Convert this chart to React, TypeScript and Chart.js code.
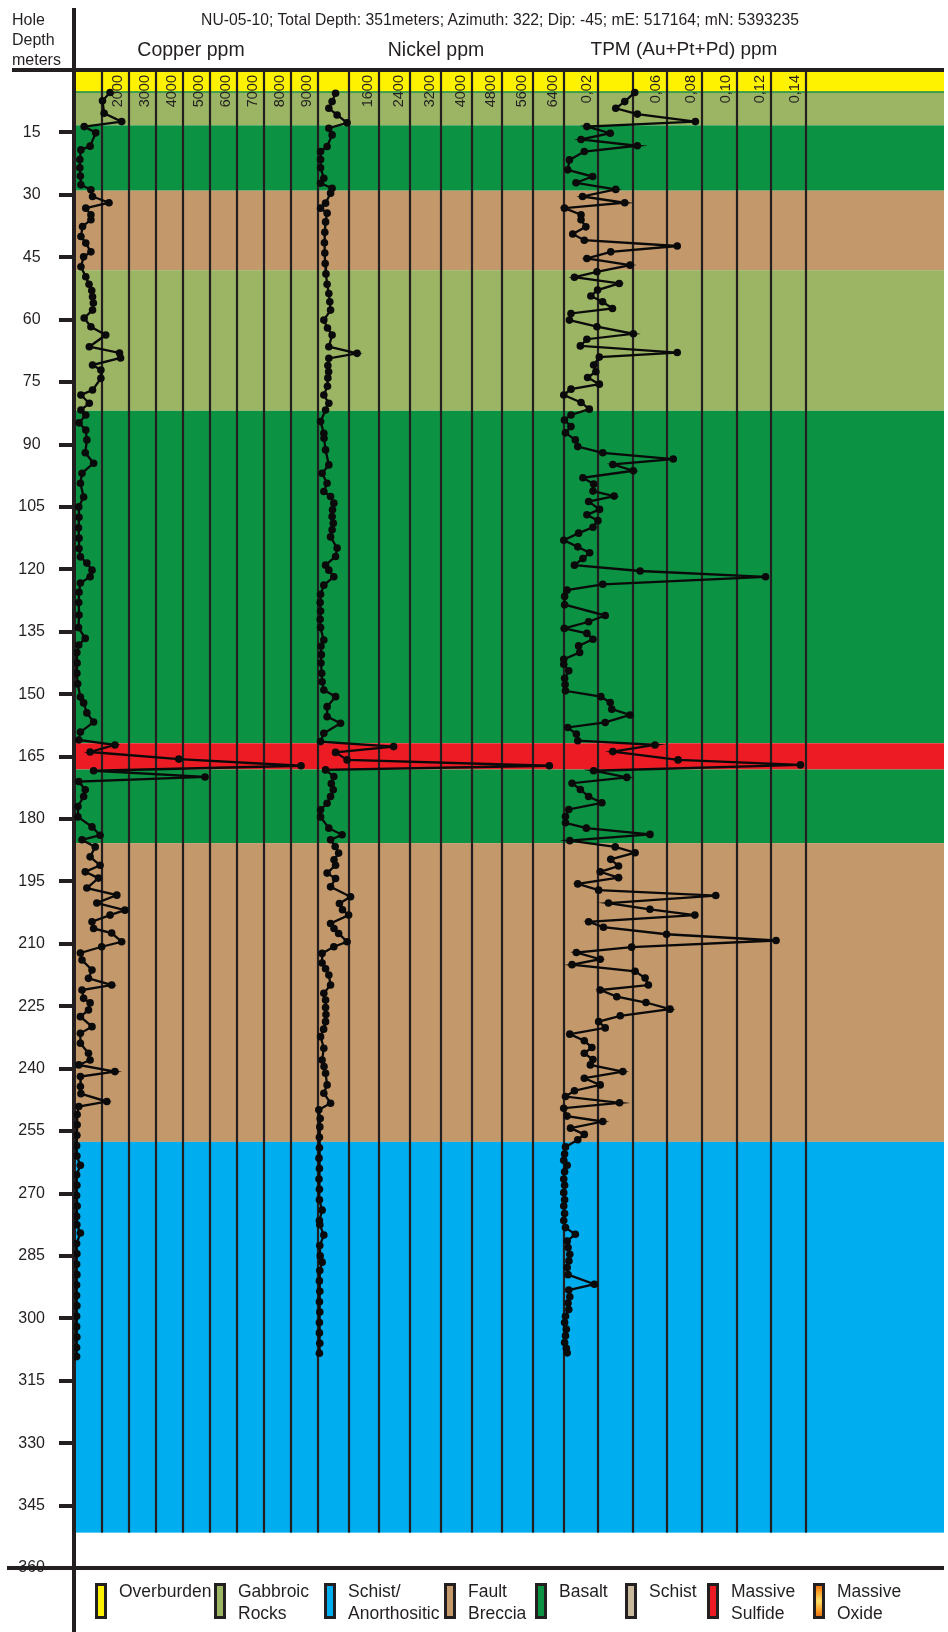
import React, { useEffect, useRef } from "react";
import { Chart, registerables } from "chart.js";

Chart.register(...registerables);

const FONT = "'Liberation Sans', Arial, Helvetica, sans-serif";
const INK = "#231F20";

// ---------- data ----------
const cuDepth = [5.4, 7.4, 10.4, 12.4, 13.6, 15.1, 18.3, 19.2, 21.5, 23.5, 25.5, 27.6, 28.8, 30.4, 31.9, 33.2, 34.8, 36.0, 37.6, 40.0, 41.6, 43.7, 44.9, 47.3, 49.7, 51.5, 53.0, 54.5, 56.0, 57.7, 59.6, 61.7, 63.7, 66.5, 68.0, 69.2, 70.9, 72.1, 74.1, 76.9, 78.1, 80.1, 81.7, 82.9, 84.8, 86.5, 88.9, 92.0, 94.5, 96.9, 99.3, 102.6, 105.0, 107.5, 110.0, 112.5, 115.0, 117.0, 118.5, 120.2, 121.8, 123.3, 125.5, 128.0, 131.0, 134.0, 136.6, 138.2, 140.0, 142.5, 145.0, 147.5, 150.7, 152.1, 154.5, 156.7, 159.1, 161.0, 162.2, 163.9, 165.6, 167.2, 168.4, 169.9, 171.0, 173.0, 174.6, 177.0, 179.5, 181.9, 183.9, 185.0, 186.7, 189.1, 191.1, 192.7, 194.2, 196.6, 198.3, 200.2, 201.9, 203.1, 204.7, 206.3, 207.4, 209.5, 210.7, 212.2, 213.9, 216.3, 218.3, 219.9, 221.1, 223.1, 224.2, 225.9, 227.5, 229.9, 231.5, 233.9, 236.3, 237.9, 239.1, 240.7, 241.9, 244.3, 246.0, 247.9, 249.1, 251.0, 253.5, 256.0, 258.5, 261.0, 263.2, 265.5, 268.0, 270.5, 273.0, 275.5, 277.5, 279.5, 282.0, 284.5, 287.0, 289.5, 292.0, 294.5, 297.0, 299.5, 302.0, 304.5, 307.0, 309.2];
const cuPpm = [1300, 1020, 1080, 1730, 340, 770, 560, 220, 180, 180, 200, 220, 590, 650, 1260, 400, 590, 590, 280, 220, 400, 590, 320, 220, 400, 520, 620, 650, 680, 650, 340, 590, 1140, 530, 1650, 1690, 650, 960, 960, 650, 220, 530, 220, 400, 150, 400, 440, 380, 690, 260, 200, 320, 140, 150, 130, 150, 150, 200, 440, 630, 560, 200, 150, 140, 150, 130, 380, 140, 70, 80, 70, 100, 200, 320, 440, 690, 200, 140, 1480, 560, 3850, 8380, 690, 4820, 140, 380, 320, 110, 110, 630, 930, 260, 750, 560, 930, 380, 870, 440, 1550, 810, 1850, 1300, 630, 690, 1360, 1730, 990, 200, 260, 630, 500, 1360, 260, 320, 560, 500, 200, 630, 200, 200, 500, 560, 140, 1480, 200, 200, 220, 1180, 140, 80, 80, 70, 60, 70, 200, 60, 70, 60, 80, 60, 70, 200, 60, 70, 60, 70, 60, 60, 70, 60, 60, 70, 60, 60];

const niDepth = [5.6, 7.6, 9.2, 10.8, 12.7, 14.0, 15.6, 18.4, 19.6, 21.5, 23.5, 26.0, 27.2, 28.4, 29.6, 32.0, 33.2, 34.4, 36.5, 39.0, 41.5, 44.0, 46.5, 49.0, 51.5, 53.7, 55.7, 57.7, 60.1, 62.0, 63.7, 66.5, 68.1, 69.3, 71.0, 72.5, 74.0, 76.0, 78.1, 80.1, 81.7, 84.5, 87.3, 88.5, 91.3, 94.9, 96.9, 99.3, 101.3, 102.5, 104.1, 105.7, 107.3, 108.9, 110.5, 112.2, 114.9, 116.9, 119.0, 120.2, 121.8, 123.8, 126.0, 128.0, 130.0, 132.0, 134.0, 137.0, 138.5, 140.5, 142.5, 145.0, 147.0, 149.0, 150.6, 153.0, 155.4, 157.0, 159.4, 161.4, 162.6, 164.0, 165.8, 167.2, 168.2, 169.8, 171.5, 173.0, 174.6, 176.2, 177.8, 179.5, 182.2, 183.8, 185.0, 186.6, 188.2, 189.8, 191.1, 193.0, 194.3, 196.3, 198.7, 200.3, 201.8, 203.1, 205.1, 206.3, 207.5, 209.5, 210.7, 212.3, 214.6, 216.0, 217.5, 219.9, 221.9, 223.5, 225.3, 227.0, 228.7, 230.5, 232.3, 235.1, 237.9, 239.5, 241.1, 243.9, 245.9, 248.3, 249.9, 252.0, 254.0, 256.5, 259.0, 261.5, 264.0, 266.5, 269.0, 271.5, 274.0, 276.5, 277.5, 280.0, 282.5, 285.0, 286.5, 288.5, 291.0, 293.5, 296.0, 298.5, 301.0, 303.5, 306.0, 308.4];
const niPpm = [460, 370, 285, 500, 760, 285, 370, 240, 70, 70, 70, 155, 70, 370, 330, 200, 70, 240, 200, 180, 170, 180, 190, 210, 240, 285, 310, 330, 155, 250, 370, 285, 1020, 285, 260, 280, 260, 250, 155, 285, 200, 70, 155, 160, 200, 285, 110, 240, 155, 330, 415, 380, 370, 400, 370, 330, 500, 460, 200, 285, 415, 155, 70, 60, 70, 60, 70, 155, 80, 90, 80, 100, 110, 155, 460, 240, 240, 590, 155, 70, 1970, 460, 760, 6020, 200, 415, 350, 400, 330, 240, 70, 70, 285, 630, 330, 450, 540, 420, 460, 240, 460, 330, 850, 560, 640, 800, 330, 420, 540, 760, 415, 110, 110, 200, 285, 330, 155, 200, 200, 210, 200, 150, 70, 155, 110, 160, 200, 240, 155, 330, 25, 60, 50, 40, 40, 30, 40, 30, 40, 40, 110, 40, 50, 155, 50, 60, 110, 50, 40, 50, 40, 50, 40, 40, 50, 40];

const tpmDepth = [5.4, 7.6, 9.2, 10.6, 12.4, 13.6, 15.2, 16.7, 18.2, 19.6, 21.6, 24.0, 25.6, 27.1, 28.7, 30.4, 31.9, 33.2, 34.8, 36.0, 37.7, 39.4, 40.9, 42.3, 43.7, 45.3, 46.9, 48.5, 49.8, 51.3, 52.9, 54.3, 55.7, 57.3, 58.5, 60.1, 61.7, 63.4, 64.7, 66.3, 67.9, 69.0, 70.9, 72.5, 73.9, 75.5, 76.7, 78.1, 79.9, 81.5, 82.9, 84.1, 85.7, 87.2, 88.9, 90.5, 92.0, 93.5, 94.8, 96.3, 98.0, 99.5, 101.2, 102.4, 103.7, 105.6, 106.9, 108.3, 109.9, 111.3, 113.0, 114.6, 116.0, 117.4, 119.0, 120.4, 121.8, 123.6, 125.0, 126.5, 128.5, 131.1, 132.6, 134.2, 135.4, 136.8, 138.4, 140.0, 141.6, 142.8, 144.4, 146.2, 147.7, 149.2, 150.6, 152.0, 153.6, 155.0, 156.8, 158.0, 159.6, 161.2, 162.2, 163.8, 165.8, 167.0, 168.4, 170.0, 171.4, 172.9, 174.6, 176.1, 177.7, 179.4, 180.9, 182.2, 183.7, 185.2, 186.7, 188.1, 189.7, 191.3, 192.7, 194.1, 195.6, 197.1, 198.4, 200.2, 201.7, 203.1, 204.7, 206.0, 207.7, 209.2, 210.8, 212.1, 213.7, 215.0, 216.6, 218.2, 219.9, 221.1, 222.7, 224.1, 225.7, 227.3, 228.7, 230.2, 231.7, 233.3, 234.9, 236.3, 237.8, 239.1, 240.7, 242.3, 243.9, 245.3, 246.7, 248.2, 249.5, 251.4, 252.7, 254.3, 255.8, 257.1, 258.8, 260.5, 262.0, 263.2, 264.8, 266.5, 268.0, 269.8, 271.5, 273.0, 274.8, 276.5, 278.2, 279.8, 281.4, 283.0, 284.6, 286.2, 287.8, 289.5, 291.8, 293.2, 294.8, 296.3, 297.9, 299.5, 301.0, 302.6, 304.2, 305.8, 307.2, 308.3];
const tpmPpm = [0.0411, 0.0353, 0.0301, 0.0426, 0.0762, 0.0134, 0.0269, 0.01, 0.0426, 0.0119, 0.0033, 0.0023, 0.0167, 0.0071, 0.0301, 0.0109, 0.0353, 0.0004, 0.01, 0.01, 0.0128, 0.0052, 0.0119, 0.0657, 0.0272, 0.0134, 0.0384, 0.0192, 0.0062, 0.0321, 0.0196, 0.0157, 0.0225, 0.0282, 0.0042, 0.0033, 0.0192, 0.0403, 0.0134, 0.0096, 0.0657, 0.0206, 0.0173, 0.0186, 0.0138, 0.0206, 0.0042, 0.0, 0.01, 0.0148, 0.0042, 0.0004, 0.0042, 0.001, 0.0067, 0.0081, 0.0226, 0.0634, 0.0284, 0.0403, 0.0111, 0.0173, 0.0169, 0.0292, 0.0144, 0.0207, 0.0134, 0.0198, 0.0169, 0.0086, 0.0, 0.0081, 0.015, 0.0111, 0.0062, 0.0442, 0.1168, 0.0226, 0.0019, 0.0005, 0.0005, 0.024, 0.0144, 0.0003, 0.0134, 0.0169, 0.0086, 0.0092, 0.0, 0.0, 0.0029, 0.0005, 0.0008, 0.001, 0.0215, 0.0269, 0.0278, 0.0384, 0.024, 0.0023, 0.0073, 0.0081, 0.0528, 0.0284, 0.0662, 0.137, 0.0173, 0.0365, 0.0048, 0.0096, 0.0144, 0.0221, 0.0029, 0.001, 0.001, 0.0131, 0.0499, 0.0035, 0.0298, 0.0413, 0.0272, 0.0317, 0.0211, 0.0317, 0.0081, 0.0202, 0.088, 0.0259, 0.0499, 0.0759, 0.0144, 0.023, 0.0595, 0.1229, 0.0393, 0.0073, 0.0211, 0.0048, 0.0413, 0.0471, 0.049, 0.0211, 0.0307, 0.0476, 0.0615, 0.0327, 0.0202, 0.024, 0.0035, 0.0119, 0.0163, 0.0119, 0.0169, 0.0154, 0.0342, 0.0119, 0.0211, 0.0062, 0.001, 0.0323, 0.0, 0.0019, 0.0226, 0.0039, 0.0119, 0.0081, 0.001, 0.0005, 0.0, 0.002, 0.0005, 0.0, 0.0005, 0.0, 0.0005, 0.0, 0.0005, 0.0, 0.001, 0.0067, 0.002, 0.0025, 0.0035, 0.003, 0.002, 0.0025, 0.0177, 0.0029, 0.0035, 0.0025, 0.0029, 0.001, 0.0005, 0.0015, 0.001, 0.0005, 0.0015, 0.002];

// lithology intervals (metres)
const layerTop = [0, 5.3, 13.3, 29.0, 48.1, 81.9, 161.8, 168.1, 185.8, 257.6];
const layerBottom = [5.3, 13.3, 29.0, 48.1, 81.9, 161.8, 168.1, 185.8, 257.6, 351.5];
const layerRock = ["Overburden", "Gabbroic Rocks", "Basalt", "Fault Breccia", "Gabbroic Rocks", "Basalt", "Massive Sulfide", "Basalt", "Fault Breccia", "Schist/Anorthositic"];
const holeDepth = 351.5;

// legend
const legendNames = ["Overburden", "Gabbroic Rocks", "Schist/Anorthositic", "Fault Breccia", "Basalt", "Schist", "Massive Sulfide", "Massive Oxide"];
const legendLines = [["Overburden"], ["Gabbroic", "Rocks"], ["Schist/", "Anorthositic"], ["Fault", "Breccia"], ["Basalt"], ["Schist"], ["Massive", "Sulfide"], ["Massive", "Oxide"]];
const legendColors = ["#FFF200", "#9CB564", "#00ADEE", "#C3986B", "#0C9243", "#C8B99C", "#ED1C24", "#F7941D"];

// column tick values / labels
const cuTicks = [1000, 2000, 3000, 4000, 5000, 6000, 7000, 8000, 9000];
const cuTickLabels = ["", "2000", "3000", "4000", "5000", "6000", "7000", "8000", "9000"];
const niTicks = [800, 1600, 2400, 3200, 4000, 4800, 5600, 6400];
const niTickLabels = ["", "1600", "2400", "3200", "4000", "4800", "5600", "6400"];
const tpmTicks = [0.02, 0.04, 0.06, 0.08, 0.1, 0.12, 0.14];
const tpmTickLabels = ["0,02", "", "0,06", "0,08", "0,10", "0,12", "0,14"];

// axis ranges (each column shares one plot area)
const cuMin = -37, cuMax = 32214;
const niMin = -6343, niMax = 16285;
const tpmMin = -0.28349, tpmMax = 0.22011;
const depthMin = 0, depthMax = 360, depthStep = 15;

const title = "NU-05-10; Total Depth: 351meters; Azimuth: 322; Dip: -45; mE: 517164; mN: 5393235";

const rockColor = (name: string) => legendColors[legendNames.indexOf(name)];

const backgroundPlugin = {
  id: "logBackground",
  beforeDraw(chart: any) {
    const { ctx, chartArea, scales } = chart;
    const y = scales.y;
    ctx.save();
    const left = chartArea.left + 2;
    const right = chartArea.right;
    for (let i = 0; i < layerTop.length; i++) {
      const y0 = y.getPixelForValue(layerTop[i]);
      const y1 = y.getPixelForValue(layerBottom[i]);
      ctx.fillStyle = rockColor(layerRock[i]);
      ctx.fillRect(left, y0, right - left, y1 - y0);
    }
    // thin boundary under overburden
    ctx.fillStyle = "#3F9C4A";
    ctx.fillRect(left, y.getPixelForValue(layerBottom[0]) - 1, right - left, 2);

    const yTop = y.getPixelForValue(0) + 2;
    const yBot = y.getPixelForValue(holeDepth);
    const drawCol = (scale: any, ticks: number[], labels: string[]) => {
      ticks.forEach((t, i) => {
        const px = Math.round(scale.getPixelForValue(t));
        ctx.fillStyle = INK;
        ctx.fillRect(px - 1.1, yTop, 2.2, yBot - yTop);
        if (labels[i]) {
          ctx.save();
          ctx.translate(px - 7, yTop + 3);
          ctx.rotate(-Math.PI / 2);
          ctx.font = `14.5px ${FONT}`;
          ctx.textAlign = "right";
          ctx.textBaseline = "alphabetic";
          ctx.fillStyle = INK;
          ctx.fillText(labels[i], 0, 0);
          ctx.restore();
        }
      });
    };
    drawCol(scales.xCu, cuTicks, cuTickLabels);
    drawCol(scales.xNi, niTicks, niTickLabels);
    drawCol(scales.xTpm, tpmTicks, tpmTickLabels);
    ctx.restore();
  },
  afterDraw(chart: any) {
    const { ctx, chartArea } = chart;
    ctx.save();
    ctx.fillStyle = INK;
    // header rule
    ctx.fillRect(12, chartArea.top - 2, chartArea.right - 12, 4);
    // bottom rule
    ctx.fillRect(7, chartArea.bottom - 2, chartArea.right - 7, 4);
    // depth axis extension above / below the plot
    ctx.fillRect(chartArea.left - 2, 8, 4, chartArea.top - 8);
    ctx.fillRect(chartArea.left - 2, chartArea.bottom, 4, chart.height - chartArea.bottom);
    ctx.restore();
  },
};

const series = (depth: number[], vals: number[]) => depth.map((d, i) => ({ x: vals[i], y: d }));

const lineStyle = {
  borderColor: "#0a0a0a",
  backgroundColor: "#0a0a0a",
  pointBackgroundColor: "#0a0a0a",
  pointBorderColor: "#0a0a0a",
  borderWidth: 2.3,
  pointRadius: 3.8,
  pointBorderWidth: 0,
  tension: 0,
  fill: false,
};

export default function App() {
  const ref = useRef<HTMLCanvasElement | null>(null);

  useEffect(() => {
    document.body.style.margin = "0";
    if (!ref.current) return;
    const chart = new Chart(ref.current, {
      type: "line",
      data: {
        datasets: [
          { label: "Copper ppm", data: series(cuDepth, cuPpm), xAxisID: "xCu", yAxisID: "y", ...lineStyle },
          { label: "Nickel ppm", data: series(niDepth, niPpm), xAxisID: "xNi", yAxisID: "y", ...lineStyle },
          { label: "TPM (Au+Pt+Pd) ppm", data: series(tpmDepth, tpmPpm), xAxisID: "xTpm", yAxisID: "y", ...lineStyle },
        ] as any,
      },
      options: {
        indexAxis: "y",
        responsive: false,
        devicePixelRatio: 1,
        animation: false,
        events: [],
        layout: { padding: { top: 70, bottom: 64, left: 0, right: 0 } },
        plugins: { legend: { display: false }, tooltip: { enabled: false }, title: { display: false } },
        scales: {
          y: {
            type: "linear",
            axis: "y",
            position: "left",
            reverse: true,
            min: depthMin,
            max: depthMax,
            afterFit: (s: any) => { s.width = 74; },
            ticks: {
              stepSize: depthStep,
              autoSkip: false,
              padding: 14,
              crossAlign: "center",
              color: INK,
              font: { family: FONT, size: 16 },
              callback: (v: any) => (v === 0 ? "" : String(v)),
            },
            grid: { drawOnChartArea: false, drawTicks: true, tickLength: 15, lineWidth: 4, color: INK },
            border: { display: true, width: 4, color: INK },
          },
          xCu: { type: "linear", axis: "x", display: false, min: cuMin, max: cuMax },
          xNi: { type: "linear", axis: "x", display: false, min: niMin, max: niMax },
          xTpm: { type: "linear", axis: "x", display: false, min: tpmMin, max: tpmMax },
        } as any,
      },
      plugins: [backgroundPlugin],
    });
    return () => chart.destroy();
  }, []);

  const txt: React.CSSProperties = { position: "absolute", whiteSpace: "nowrap", color: INK, fontFamily: FONT };

  return (
    <div style={{ position: "relative", width: 948, height: 1632, background: "#fff", overflow: "hidden" }}>
      <canvas ref={ref} width={948} height={1632} style={{ position: "absolute", left: 0, top: 0, width: 948, height: 1632 }} />
      <div style={{ ...txt, left: 12, top: 10, fontSize: 16, lineHeight: "20px" }}>
        Hole<br />Depth<br />meters
      </div>
      <div style={{ ...txt, left: 500, top: 10, fontSize: 15.7, lineHeight: "20px", transform: "translateX(-50%)" }}>{title}</div>
      <div style={{ ...txt, left: 191, top: 37, fontSize: 19.5, lineHeight: "24px", transform: "translateX(-50%)" }}>Copper ppm</div>
      <div style={{ ...txt, left: 436, top: 37, fontSize: 19.5, lineHeight: "24px", transform: "translateX(-50%)" }}>Nickel ppm</div>
      <div style={{ ...txt, left: 684, top: 37, fontSize: 19, lineHeight: "24px", transform: "translateX(-50%)" }}>TPM (Au+Pt+Pd) ppm</div>
      {legendNames.map((name, i) => {
        const swX = [95, 214, 324, 444, 535, 625, 707, 813][i];
        const isOxide = name === "Massive Oxide";
        return (
          <React.Fragment key={name}>
            <div
              style={{
                position: "absolute",
                left: swX,
                top: 1583,
                width: 12,
                height: 36,
                boxSizing: "border-box",
                border: `3px solid ${INK}`,
                background: isOxide ? "radial-gradient(circle, #FFE36B 0%, #F7941D 70%, #E2701A 100%)" : legendColors[i],
              }}
            />
            <div style={{ ...txt, left: swX + 24, top: 1580, fontSize: 17.5, lineHeight: "22px" }}>
              {legendLines[i].map((l, j) => (
                <div key={j}>{l}</div>
              ))}
            </div>
          </React.Fragment>
        );
      })}
    </div>
  );
}
